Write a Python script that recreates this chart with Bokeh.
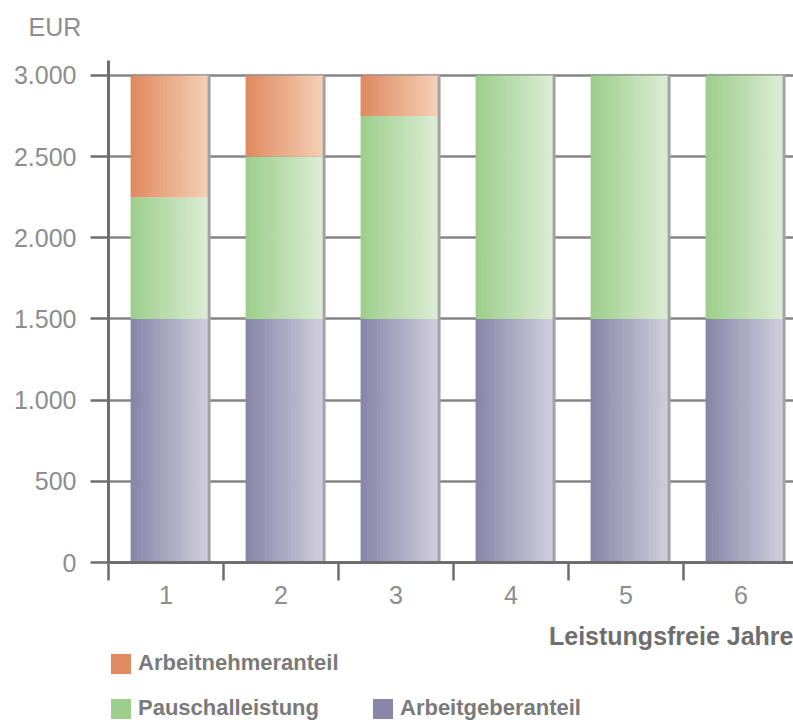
from bokeh.plotting import figure
from bokeh.layouts import column
from bokeh.models import Range1d, FixedTicker, Legend, LegendItem, Title, ColumnDataSource
from bokeh.embed import file_html
from bokeh.resources import INLINE

# ---- data ----
categories = [1, 2, 3, 4, 5, 6]
category_labels = ["1", "2", "3", "4", "5", "6"]
arbeitgeberanteil = [1500, 1500, 1500, 1500, 1500, 1500]
pauschalleistung = [750, 1000, 1250, 1500, 1500, 1500]
arbeitnehmeranteil = [750, 500, 250, 0, 0, 0]
y_ticks = [0, 500, 1000, 1500, 2000, 2500, 3000]
series_names = ["Arbeitgeberanteil", "Pauschalleistung", "Arbeitnehmeranteil"]
y_unit = "EUR"
x_title = "Leistungsfreie Jahre"

# ---- style ----
FONT = "Liberation Sans"
BAR_W = 0.68
BAR_SHIFT = 0.035
N_STRIPS = 24
GRAD = {
    "Arbeitgeberanteil": ("#8886a9", "#cfcddc"),
    "Pauschalleistung": ("#9dce8c", "#dcecd4"),
    "Arbeitnehmeranteil": ("#df8a60", "#f4cfb5"),
}


def hex_to_rgb(h):
    h = h.lstrip("#")
    return tuple(int(h[i:i + 2], 16) for i in (0, 2, 4))


def lerp(c1, c2, t):
    a, b = hex_to_rgb(c1), hex_to_rgb(c2)
    return "#%02x%02x%02x" % tuple(int(round(a[k] + (b[k] - a[k]) * t)) for k in range(3))


def de_format(v):
    return f"{v:,}".replace(",", ".")


p = figure(
    width=793, height=618,
    x_range=Range1d(0.5, 6.457), y_range=Range1d(0, 3092),
    output_backend="svg", toolbar_location=None,
    min_border_left=108, min_border_right=0, min_border_top=60, min_border_bottom=56,
)
p.outline_line_color = None
p.background_fill_color = "white"

# grid
p.xgrid.grid_line_color = None
p.ygrid.ticker = FixedTicker(ticks=y_ticks)
p.ygrid.grid_line_color = "#858585"
p.ygrid.grid_line_width = 2.5

# y axis
yax = p.yaxis[0]
yax.ticker = FixedTicker(ticks=y_ticks)
yax.major_label_overrides = {v: de_format(v) for v in y_ticks}
yax.axis_line_color = "#6e6e6e"
yax.axis_line_width = 3
yax.major_tick_line_color = "#6e6e6e"
yax.major_tick_line_width = 2.5
yax.major_tick_out = 18
yax.major_tick_in = 0
yax.minor_tick_line_color = None
yax.major_label_standoff = 14
yax.major_label_text_font = FONT
yax.major_label_text_font_size = "25px"
yax.major_label_text_color = "#8d8d8d"

# x axis
xax = p.xaxis[0]
xax.ticker = FixedTicker(ticks=categories, minor_ticks=[c - 0.5 for c in categories] + [categories[-1] + 0.5])
xax.major_label_overrides = {c: l for c, l in zip(categories, category_labels)}
xax.axis_line_color = "#6e6e6e"
xax.axis_line_width = 3
xax.major_tick_line_color = None
xax.major_tick_out = 18
xax.major_tick_in = 0
xax.minor_tick_line_color = "#6e6e6e"
xax.minor_tick_line_width = 2.5
xax.minor_tick_out = 18
xax.minor_tick_in = 0
xax.major_label_standoff = 5
xax.major_label_text_font = FONT
xax.major_label_text_font_size = "25px"
xax.major_label_text_color = "#8d8d8d"

# stacked gradient bars
series_values = {
    "Arbeitgeberanteil": arbeitgeberanteil,
    "Pauschalleistung": pauschalleistung,
    "Arbeitnehmeranteil": arbeitnehmeranteil,
}
bottoms = [0] * len(categories)
for name in series_names:
    vals = series_values[name]
    c_left, c_right = GRAD[name]
    xs, bots, tops, cols = [], [], [], []
    for i, c in enumerate(categories):
        for j in range(N_STRIPS):
            t = j / (N_STRIPS - 1)
            xs.append(c + BAR_SHIFT - BAR_W / 2 + (j + 0.5) * BAR_W / N_STRIPS)
            bots.append(bottoms[i])
            tops.append(bottoms[i] + vals[i])
            cols.append(lerp(c_left, c_right, t))
    src = ColumnDataSource(dict(x=xs, bottom=bots, top=tops, color=cols))
    p.vbar(x="x", bottom="bottom", top="top", width=BAR_W / N_STRIPS * 1.2,
           fill_color="color", line_color=None, source=src)
    bottoms = [b + v for b, v in zip(bottoms, vals)]

# right-edge shading line of each bar
p.vbar(x=[c + BAR_SHIFT + BAR_W / 2 for c in categories], bottom=0, top=bottoms, width=0.026,
       fill_color="#a3a3a3", line_color=None)

# unit title (a thin spacer title keeps it higher above the frame)
p.add_layout(Title(text=" ", text_font_size="1px", standoff=17), "above")
p.add_layout(Title(text=y_unit, align="left", offset=-80, text_font=FONT, text_font_size="25px",
                   text_font_style="normal", text_color="#8d8d8d", standoff=0), "above")

# ---- legend figure (below the chart) ----
lf = figure(
    width=793, height=102, x_range=Range1d(0, 1), y_range=Range1d(0, 1),
    output_backend="svg", toolbar_location=None,
    x_axis_location=None, y_axis_location=None,
    min_border_left=96, min_border_right=0, min_border_top=32, min_border_bottom=0,
)
lf.outline_line_color = None
lf.xgrid.grid_line_color = None
lf.ygrid.grid_line_color = None
lf.add_layout(Title(text=x_title, align="right", text_font=FONT, text_font_size="25px",
                    text_font_style="bold", text_color="#6e6e6e", standoff=2), "above")

proxy = {}
for name in series_names:
    proxy[name] = lf.vbar(x=[0], bottom=[0], top=[0], width=0.01,
                          fill_color=GRAD[name][0], line_color=None)
blank = lf.vbar(x=[0], bottom=[0], top=[0], width=0.01, fill_alpha=0, line_alpha=0)

legend = Legend(
    items=[
        LegendItem(label="Arbeitnehmeranteil", renderers=[proxy["Arbeitnehmeranteil"]]),
        LegendItem(label=" ", renderers=[blank]),
        LegendItem(label="Pauschalleistung", renderers=[proxy["Pauschalleistung"]]),
        LegendItem(label="Arbeitgeberanteil", renderers=[proxy["Arbeitgeberanteil"]]),
    ],
    orientation="horizontal", ncols=2, location="top_left",
    glyph_width=25, glyph_height=25, label_height=25, label_width=213, label_standoff=5,
    spacing=19, padding=0, margin=0,
    label_text_font=FONT, label_text_font_size="22px", label_text_font_style="bold",
    label_text_color="#7a7a7a", background_fill_alpha=0, border_line_color=None,
)
lf.add_layout(legend)

layout = column(p, lf, spacing=0)
open("out.html", "w").write(file_html(layout, INLINE))
